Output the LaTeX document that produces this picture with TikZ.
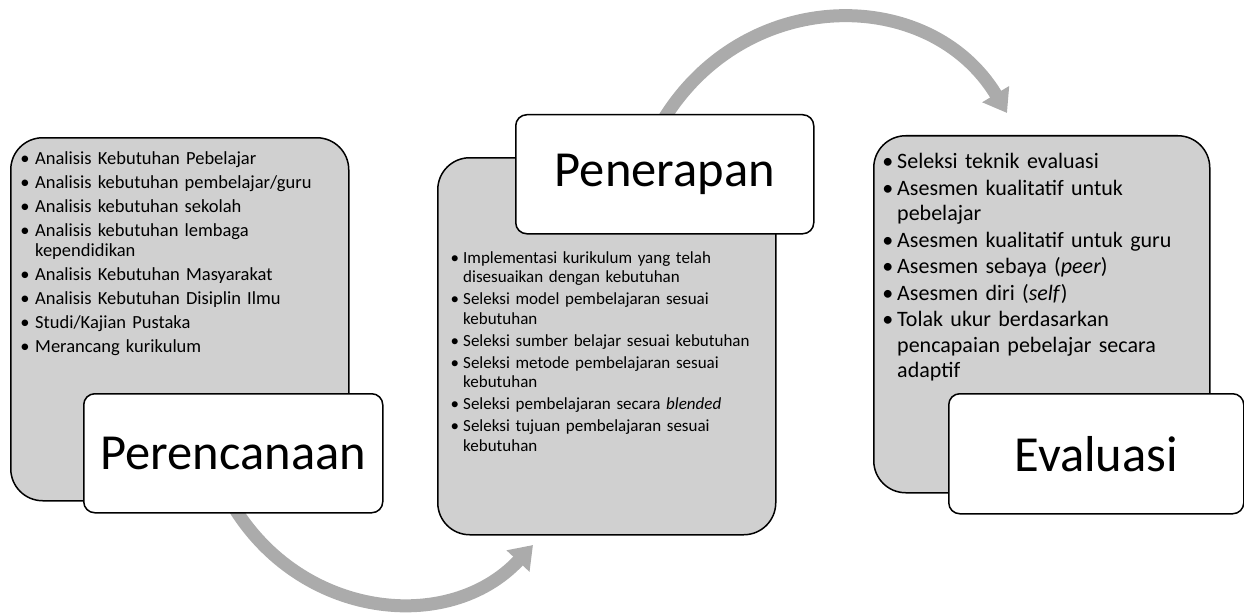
\documentclass[tikz,border=0pt]{standalone}
\usepackage{fontspec}
\setmainfont{Carlito}
\usepackage{enumitem}
\usetikzlibrary{arrows.meta,backgrounds,positioning}

\definecolor{boxgrey}{HTML}{D0D0D0}
\definecolor{arrowgrey}{HTML}{ABABAB}

% #1 left margin, #2 label sep, #3 item sep
\newenvironment{bullets}[3]{\raggedright
  \begin{itemize}[leftmargin=#1, labelsep=#2, itemsep=#3, topsep=0pt,
    parsep=0pt, partopsep=0pt, label=\textbullet]}{\end{itemize}}

\tikzset{
  card/.style={draw=black, line width=1.5pt, fill=boxgrey, rounded corners=32pt,
    anchor=north west, inner sep=0pt},
  tag/.style={draw=black, line width=1.5pt, fill=white, rounded corners=11pt,
    anchor=north west, inner sep=0pt, font=\fontsize{50.5}{58}\selectfont},
  items/.style={anchor=north west, inner sep=0pt, align=left},
  cycle/.style={draw=arrowgrey, line width=13pt, -{Triangle[width=30pt,length=22pt]}}
}

\begin{document}
\begin{tikzpicture}[x=1pt,y=-1pt]
\useasboundingbox (0,0) rectangle (1244,615);

% Perencanaan
\node[card, minimum width=338pt, minimum height=363pt] (plan) at (10,137) {};
\node[items, text width=325pt, font=\fontsize{18.5}{20}\selectfont] (planlist) at (15,144.5)
{\begin{bullets}{20pt}{5.5pt}{4pt}
\item Analisis Kebutuhan Pebelajar
\item Analisis kebutuhan pembelajar/guru
\item Analisis kebutuhan sekolah
\item Analisis kebutuhan lembaga\newline kependidikan
\item Analisis Kebutuhan Masyarakat
\item Analisis Kebutuhan Disiplin Ilmu
\item Studi/Kajian Pustaka
\item Merancang kurikulum
\end{bullets}};
\node[tag, minimum width=299pt, minimum height=119pt] (plantag) at (83,393) {Perencanaan};

% Penerapan
\node[card, minimum width=338pt, minimum height=377pt] (apply) at (437,157) {};
\node[items, text width=325pt, font=\fontsize{17}{19.5}\selectfont] (applylist) at (445,243.5)
{\begin{bullets}{18pt}{4pt}{2.5pt}
\item Implementasi kurikulum yang telah\newline disesuaikan dengan kebutuhan
\item Seleksi model pembelajaran sesuai\newline kebutuhan
\item Seleksi sumber belajar sesuai kebutuhan
\item Seleksi metode pembelajaran sesuai\newline kebutuhan
\item Seleksi pembelajaran secara \textit{blended}
\item Seleksi tujuan pembelajaran sesuai\newline kebutuhan
\end{bullets}};
\node[tag, minimum width=298pt, minimum height=119pt] (applytag) at (515,114) {Penerapan};

% Evaluasi
\node[card, minimum width=336pt, minimum height=357pt] (eval) at (873,135) {};
\node[items, text width=325pt, font=\fontsize{22}{25.5}\selectfont] (evallist) at (878,143)
{\begin{bullets}{19pt}{4pt}{1pt}
\item Seleksi teknik evaluasi
\item Asesmen kualitatif untuk\newline pebelajar
\item Asesmen kualitatif untuk guru
\item Asesmen sebaya (\textit{peer})
\item Asesmen diri (\textit{self})
\item Tolak ukur berdasarkan\newline pencapaian pebelajar secara\newline adaptif
\end{bullets}};
\node[tag, minimum width=295pt, minimum height=120pt] (evaltag) at (948,393) {Evaluasi};

% cycle arrows
\coordinate (planout) at (232,504);
\coordinate (applyin) at (533,545);
\coordinate (applyout) at (662,122);
\coordinate (evalin) at (1007,113);
\begin{pgfonlayer}{background}
\draw[cycle] (planout) .. controls (300,619) and (449,635) .. (applyin);
\draw[cycle] (applyout) .. controls (744,-15) and (930,-15) .. (evalin);
\end{pgfonlayer}

\end{tikzpicture}
\end{document}
